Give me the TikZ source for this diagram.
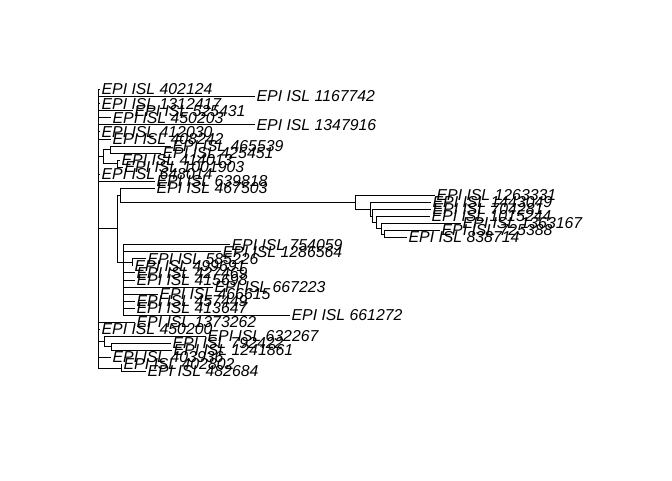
\documentclass[tikz,border=0pt]{standalone}
\usepackage{fontspec}
\setmainfont{Liberation Sans}
\begin{document}
\begin{tikzpicture}[x=1pt,y=-1pt,
  lab/.style={anchor=west,inner sep=0pt,xshift=1.5pt,font=\itshape\fontsize{15.8}{16}\selectfont},
  br/.style={line width=0.7pt,black}]
\fill[white] (0,0) rectangle (672,480);
\useasboundingbox (0,0) rectangle (672,480);
% tips
\foreach \i/\x/\y/\t in {
 1/100/89.5/402124, 2/255/96.55/1167742, 3/100/103.6/1312417, 4/133/110.65/525431,
 5/111/117.7/450203, 6/255/124.75/1347916, 7/100/131.8/412030, 8/111/138.85/408242,
 9/171/145.9/465539, 10/161/152.95/425451, 11/120/160.0/414013, 12/123/167.05/1001903,
 13/100/174.1/648014, 14/155/181.15/639818, 15/155/188.2/467503, 16/435/195.25/1263331,
 17/431/202.3/1443049, 18/431/209.35/704281, 19/430/216.4/1015244, 20/461/223.45/1363167,
 21/440/230.5/725388, 22/407/237.55/838714, 23/230/244.6/754059, 24/221/251.65/1286564,
 25/146/258.7/585226, 26/133/265.75/499691, 27/135/272.8/427469, 28/135/279.85/415698,
 29/213/286.9/667223, 30/158/293.95/466615, 31/135/301.0/457449, 32/135/308.05/413647,
 33/290/315.1/661272, 34/135/322.15/1373262, 35/100/329.2/450200, 36/206/336.25/632267,
 37/171/343.3/792422, 38/172/350.35/1241861, 39/111/357.4/403936, 40/122/364.45/402802,
 41/146/371.5/482684}
{\coordinate (t\i) at (\x,\y); \node[lab] (l\i) at (t\i) {EPI ISL \t};}
% internal nodes
\coordinate (R) at (98.5,228.6);
\coordinate (N1) at (110,149.4);
\coordinate (N3) at (117,163.5);
\coordinate (N2) at (103,156.5);
\coordinate (L) at (117,228.6);
\coordinate (K) at (120,195.2);
\coordinate (A) at (355,202.2);
\coordinate (B) at (370,209.1);
\coordinate (C) at (372,215.95);
\coordinate (D) at (376,222.55);
\coordinate (E) at (381,228.7);
\coordinate (F) at (384,234.0);
\coordinate (M) at (123,262);
\coordinate (S1) at (132,262.2);
\coordinate (Q) at (104,341.5);
\coordinate (Q2) at (111,346.8);
\coordinate (T) at (121,368);
% branches
\foreach \p/\c in {R/t1,R/t2,R/t3,R/t4,R/t5,R/t6,R/t7,R/t8,R/N2,R/t13,R/t14,R/L,
  R/t34,R/t35,R/Q,R/t39,R/T,
  N2/N1,N2/N3,N1/t9,N1/t10,N3/t11,N3/t12,
  L/K,L/M,K/t15,K/A,A/t16,A/B,B/t17,B/C,C/t18,C/D,D/t19,D/E,E/t20,E/F,F/t21,F/t22,
  M/t23,M/t24,M/S1,M/t27,M/t28,M/t29,M/t30,M/t31,M/t32,M/t33,S1/t25,S1/t26,
  Q/t36,Q/Q2,Q2/t37,Q2/t38,T/t40,T/t41}
{\draw[br] (\p) |- (\c);}
\end{tikzpicture}
\end{document}
